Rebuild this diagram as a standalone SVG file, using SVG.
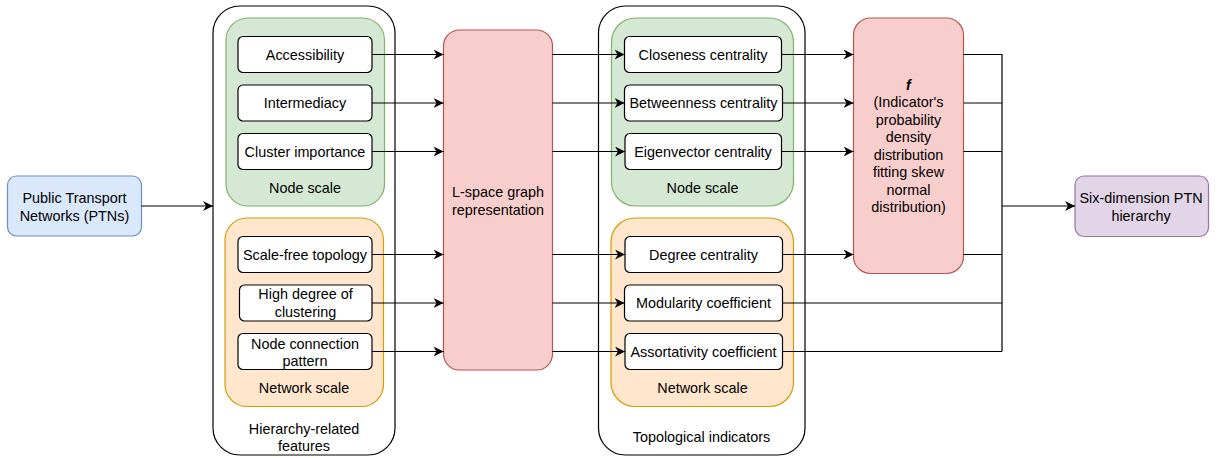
<svg xmlns="http://www.w3.org/2000/svg" width="1221" height="458" viewBox="0 0 1221 458">
<style>
text{font-family:"Liberation Sans",Arial,Helvetica,sans-serif;font-size:14.4px;fill:#000;text-anchor:middle}
.box{fill:#fff;stroke:#000;stroke-width:1.2}
.cont{fill:#fff;stroke:#000;stroke-width:1.2}
.green{fill:#d5e8d4;stroke:#82b366;stroke-width:1.2}
.orange{fill:#ffe6cc;stroke:#d79b00;stroke-width:1.2}
.red{fill:#f8cecc;stroke:#b85450;stroke-width:1.2}
.blue{fill:#dae8fc;stroke:#6c8ebf;stroke-width:1.2}
.purple{fill:#e1d5e7;stroke:#9673a6;stroke-width:1.2}
.edge{fill:none;stroke:#000;stroke-width:1.2}
.arr{marker-end:url(#ah)}
</style>
<defs>
<marker id="ah" viewBox="0 0 10 10" refX="10" refY="5" markerWidth="10" markerHeight="10" markerUnits="userSpaceOnUse" orient="auto">
<path d="M0,0 L10,5 L0,10 L3,5 z" fill="#000"/>
</marker>
</defs>

<g id="ptn">
<rect class="blue" x="7.5" y="176" width="134" height="60" rx="9"/>
<text x="74.5" y="203">Public Transport</text>
<text x="74.5" y="221">Networks (PTNs)</text>
</g>

<g id="hierarchy-features">
<rect class="cont" x="213" y="6" width="182" height="449" rx="27"/>
<text x="304" y="433.5">Hierarchy-related</text>
<text x="304" y="451">features</text>
</g>
<g id="hf-node-scale">
<rect class="green" x="226" y="18" width="158.5" height="188" rx="22"/>
<text x="305" y="193">Node scale</text>
</g>
<g id="hf-network-scale">
<rect class="orange" x="225" y="218" width="158.5" height="188.5" rx="22"/>
<text x="304" y="392.5">Network scale</text>
</g>
<g id="accessibility"><rect class="box" x="238" y="36.5" width="134" height="36" rx="5"/><text x="305" y="59.5">Accessibility</text></g>
<g id="intermediacy"><rect class="box" x="238" y="85" width="134" height="36" rx="5"/><text x="305" y="108">Intermediacy</text></g>
<g id="cluster-importance"><rect class="box" x="238" y="133.5" width="134" height="36" rx="5"/><text x="305" y="156.5">Cluster importance</text></g>
<g id="scale-free"><rect class="box" x="238" y="236.5" width="134" height="36" rx="5"/><text x="305" y="259.5">Scale-free topology</text></g>
<g id="high-degree"><rect class="box" x="239.5" y="285" width="132.5" height="36" rx="5"/><text x="305.5" y="299">High degree of</text><text x="305.5" y="317">clustering</text></g>
<g id="node-connection"><rect class="box" x="238" y="333.5" width="134" height="36" rx="5"/><text x="305" y="348.5">Node connection</text><text x="305" y="366">pattern</text></g>

<g id="lspace">
<rect class="red" x="443.5" y="30" width="109" height="340" rx="16"/>
<text x="498" y="197">L-space graph</text>
<text x="498" y="214.5">representation</text>
</g>

<g id="topological-indicators">
<rect class="cont" x="598.5" y="6" width="206.5" height="449" rx="27"/>
<text x="701.5" y="442">Topological indicators</text>
</g>
<g id="ti-node-scale">
<rect class="green" x="611.5" y="18" width="182" height="188" rx="24"/>
<text x="702.5" y="193">Node scale</text>
</g>
<g id="ti-network-scale">
<rect class="orange" x="611" y="218" width="182.5" height="188.5" rx="24"/>
<text x="702.5" y="392.5">Network scale</text>
</g>
<g id="closeness"><rect class="box" x="624.5" y="36.5" width="157" height="36" rx="5"/><text x="703" y="59.5">Closeness centrality</text></g>
<g id="betweenness"><rect class="box" x="624.5" y="85" width="158" height="36" rx="5"/><text x="703.5" y="108">Betweenness centrality</text></g>
<g id="eigenvector"><rect class="box" x="625" y="133.5" width="156.5" height="36" rx="5"/><text x="703" y="156.5">Eigenvector centrality</text></g>
<g id="degree"><rect class="box" x="625" y="236.5" width="157.5" height="36" rx="5"/><text x="703.5" y="259.5">Degree centrality</text></g>
<g id="modularity"><rect class="box" x="624.5" y="285" width="158" height="36" rx="5"/><text x="703.5" y="308">Modularity coefficient</text></g>
<g id="assortativity"><rect class="box" x="625" y="333.5" width="157.5" height="36" rx="5"/><text x="703.5" y="356.5">Assortativity coefficient</text></g>

<g id="f-fitting">
<rect class="red" x="853.5" y="18" width="110" height="255.5" rx="17"/>
<text x="908.5" y="90" font-weight="bold" font-style="italic">f</text>
<text x="908.5" y="107">(Indicator's</text>
<text x="908.5" y="124.5">probability</text>
<text x="908.5" y="142">density</text>
<text x="908.5" y="159.5">distribution</text>
<text x="908.5" y="177">fitting skew</text>
<text x="908.5" y="194.5">normal</text>
<text x="908.5" y="212">distribution)</text>
</g>

<g id="six-dimension">
<rect class="purple" x="1075" y="176" width="133.5" height="60.5" rx="9"/>
<text x="1141" y="202.5">Six-dimension PTN</text>
<text x="1141" y="220.5">hierarchy</text>
</g>

<g id="connectors">
<path class="edge arr" d="M141.5,206 H213"/>
<path class="edge arr" d="M372,54.5 H443.5"/>
<path class="edge arr" d="M372,103 H443.5"/>
<path class="edge arr" d="M372,151.5 H443.5"/>
<path class="edge arr" d="M372,254.5 H443.5"/>
<path class="edge arr" d="M372,303 H443.5"/>
<path class="edge arr" d="M372,351.5 H443.5"/>
<path class="edge arr" d="M552.5,54.5 H624.5"/>
<path class="edge arr" d="M552.5,103 H624.5"/>
<path class="edge arr" d="M552.5,151.5 H625"/>
<path class="edge arr" d="M552.5,254.5 H625"/>
<path class="edge arr" d="M552.5,303 H624.5"/>
<path class="edge arr" d="M552.5,351.5 H625"/>
<path class="edge arr" d="M781.5,54.5 H853.5"/>
<path class="edge arr" d="M782.5,103 H853.5"/>
<path class="edge arr" d="M781.5,151.5 H853.5"/>
<path class="edge arr" d="M782.5,254.5 H853.5"/>
<path class="edge" d="M963.5,54.5 H1002 V351.5"/>
<path class="edge" d="M963.5,103 H1002"/>
<path class="edge" d="M963.5,151.5 H1002"/>
<path class="edge" d="M963.5,254.5 H1002"/>
<path class="edge" d="M782.5,303 H1002"/>
<path class="edge" d="M782.5,351.5 H1002"/>
<path class="edge arr" d="M1002,206 H1075"/>
</g>
</svg>
